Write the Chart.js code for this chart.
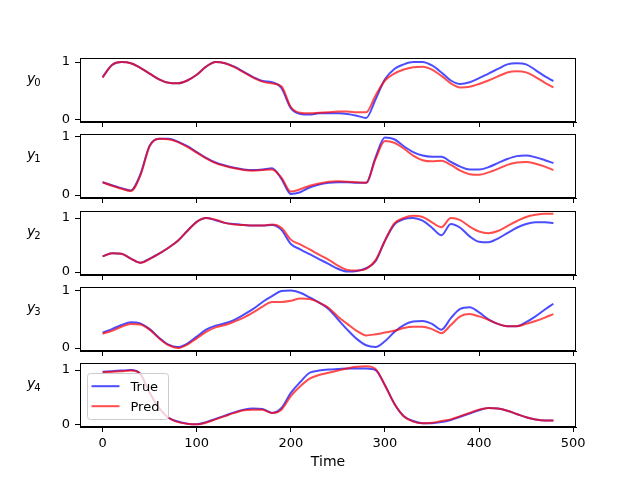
<!DOCTYPE html>
<html>
<head>
<meta charset="utf-8">
<script src="https://cdn.jsdelivr.net/npm/chart.js@4.4.1/dist/chart.umd.min.js"></script>
<style>
  body { margin: 0; background: #fff; }
  #fig { position: relative; width: 640px; height: 480px; overflow: hidden; }
  #fig canvas { position: absolute; left: 0; }
</style>
</head>
<body>
<div id="fig"></div>
<script>
// sample times (x axis)
const time = [0,10,20,30,40,50,60,70,80,90,100,110,120,130,140,150,160,170,180,190,
  200,210,220,230,240,250,260,270,280,290,300,310,320,330,340,350,360,370,380,390,
  400,410,420,430,440,450,460,470,479];

const y0True = [0.74,0.95,1.00,0.98,0.90,0.80,0.70,0.64,0.63,0.68,0.78,0.92,1.00,0.98,0.92,0.83,0.74,0.67,0.65,0.55,
  0.20,0.10,0.09,0.11,0.11,0.11,0.10,0.07,0.03,0.35,0.70,0.88,0.96,1.00,1.00,0.94,0.82,0.68,0.62,0.65,
  0.72,0.80,0.88,0.96,0.98,0.96,0.86,0.75,0.67];
const y0Pred = [0.73,0.95,1.00,0.98,0.90,0.80,0.70,0.64,0.63,0.68,0.78,0.92,1.00,0.98,0.91,0.82,0.73,0.66,0.63,0.58,
  0.22,0.12,0.11,0.12,0.13,0.14,0.14,0.13,0.13,0.42,0.68,0.80,0.87,0.91,0.92,0.87,0.76,0.63,0.56,0.57,
  0.62,0.68,0.75,0.82,0.84,0.82,0.74,0.64,0.56];

const y1True = [0.22,0.17,0.12,0.08,0.35,0.85,0.97,0.97,0.92,0.84,0.74,0.64,0.56,0.51,0.47,0.44,0.43,0.44,0.46,0.28,
  0.02,0.05,0.13,0.18,0.21,0.22,0.22,0.21,0.21,0.65,0.99,0.96,0.84,0.74,0.68,0.66,0.66,0.57,0.49,0.44,
  0.44,0.48,0.55,0.62,0.67,0.68,0.65,0.60,0.55];
const y1Pred = [0.22,0.16,0.11,0.07,0.33,0.84,0.97,0.96,0.91,0.83,0.73,0.63,0.55,0.50,0.46,0.43,0.42,0.43,0.44,0.30,
  0.06,0.10,0.16,0.20,0.23,0.24,0.23,0.22,0.21,0.62,0.93,0.90,0.80,0.68,0.60,0.58,0.59,0.52,0.42,0.36,
  0.35,0.39,0.45,0.52,0.56,0.57,0.54,0.49,0.43];

const y2True = [0.29,0.35,0.34,0.25,0.17,0.25,0.34,0.45,0.58,0.76,0.93,1.00,0.96,0.91,0.89,0.87,0.86,0.86,0.87,0.78,
  0.52,0.42,0.33,0.24,0.15,0.06,0.01,0.02,0.07,0.20,0.58,0.88,0.98,1.00,0.95,0.82,0.68,0.89,0.82,0.66,
  0.56,0.55,0.62,0.72,0.82,0.89,0.92,0.92,0.91];
const y2Pred = [0.29,0.35,0.34,0.25,0.17,0.24,0.34,0.45,0.58,0.76,0.93,1.00,0.97,0.91,0.88,0.87,0.86,0.86,0.88,0.82,
  0.60,0.51,0.42,0.32,0.23,0.12,0.04,0.03,0.06,0.22,0.58,0.90,1.00,1.04,1.02,0.92,0.83,1.00,0.96,0.84,
  0.75,0.72,0.76,0.85,0.94,1.02,1.06,1.08,1.08];

const y3True = [0.27,0.33,0.40,0.45,0.43,0.33,0.18,0.06,0.02,0.08,0.20,0.32,0.39,0.43,0.49,0.58,0.68,0.80,0.90,0.99,
  1.00,0.96,0.88,0.79,0.68,0.50,0.32,0.16,0.05,0.02,0.12,0.28,0.40,0.46,0.47,0.42,0.32,0.52,0.68,0.71,
  0.62,0.50,0.42,0.38,0.38,0.45,0.55,0.67,0.77];
const y3Pred = [0.25,0.30,0.37,0.42,0.41,0.32,0.17,0.05,0.00,0.06,0.17,0.28,0.36,0.40,0.46,0.53,0.62,0.72,0.80,0.80,
  0.82,0.86,0.85,0.79,0.70,0.55,0.42,0.30,0.22,0.24,0.27,0.30,0.35,0.37,0.37,0.33,0.26,0.40,0.55,0.59,
  0.55,0.49,0.42,0.38,0.38,0.42,0.47,0.53,0.59];

const y4True = [0.97,0.98,0.99,1.00,0.93,0.58,0.30,0.12,0.05,0.01,0.00,0.04,0.10,0.16,0.22,0.27,0.29,0.28,0.21,0.30,
  0.58,0.78,0.95,0.99,1.01,1.02,1.03,1.03,1.03,1.00,0.72,0.38,0.15,0.06,0.02,0.02,0.04,0.08,0.14,0.20,
  0.26,0.30,0.29,0.25,0.19,0.13,0.09,0.07,0.07];
const y4Pred = [0.96,0.97,0.98,0.99,0.93,0.58,0.30,0.12,0.04,0.01,0.00,0.03,0.09,0.15,0.21,0.26,0.27,0.27,0.21,0.27,
  0.52,0.70,0.84,0.91,0.95,0.99,1.03,1.06,1.07,1.02,0.72,0.38,0.15,0.05,0.02,0.03,0.06,0.09,0.15,0.21,
  0.27,0.30,0.29,0.25,0.19,0.13,0.09,0.07,0.07];

const trueSeries = [y0True, y1True, y2True, y3True, y4True];
const predSeries = [y0Pred, y1Pred, y2Pred, y3Pred, y4Pred];
const seriesNames = ['True', 'Pred'];
const xTicks = [0, 100, 200, 300, 400, 500];
const yTicks = [0, 1];
const xLabel = 'Time';

// layout (matplotlib-ish subplot boxes)
const BLUE = 'rgba(0,0,255,0.7)';
const RED = 'rgba(255,0,0,0.7)';
const axTops = [58, 134, 211, 287, 363];
const AX_H = 64;
const PAD = 16; // room above/below each axes box, more than the y tick label overflow
const yLimits = [[-0.04, 1.07], [-0.05, 1.05], [-0.055, 1.13], [-0.05, 1.06], [-0.05, 1.13]];
const X_MIN = -24, X_MAX = 503;
const FONT = '"DejaVu Sans", sans-serif';

function toXY(values) {
    return values.map((v, i) => ({ x: time[i], y: v }));
}

// full box around the axes
const framePlugin = {
    id: 'frame',
    afterDraw(chart) {
        const { ctx, chartArea: a } = chart;
        ctx.save();
        ctx.strokeStyle = '#000';
        ctx.lineWidth = 1;
        ctx.strokeRect(Math.round(a.left) + 0.5, Math.round(a.top) + 0.5,
            Math.round(a.right - a.left) - 1, Math.round(a.bottom - a.top) - 1);
        ctx.restore();
    }
};

// horizontal "y_i" label
const yLabelPlugin = {
    id: 'ylab',
    afterDraw(chart, args, opts) {
        const { ctx, chartArea: a } = chart;
        const mid = (a.top + a.bottom) / 2;
        ctx.save();
        ctx.fillStyle = '#000';
        ctx.textBaseline = 'alphabetic';
        ctx.textAlign = 'left';
        ctx.font = 'italic 14px ' + FONT;
        ctx.fillText('y', 27, mid - 7);
        const w = ctx.measureText('y').width;
        ctx.font = '10px ' + FONT;
        ctx.fillText(String(opts.sub), 27 + w - 1, mid - 4.5);
        ctx.restore();
    }
};

// legend drawn inside the lower-left corner of the axes
const innerLegendPlugin = {
    id: 'innerLegend',
    afterDatasetsDraw(chart, args, opts) {
        if (!opts.show) return;
        const { ctx, chartArea: a } = chart;
        const w = 81, h = 46;
        const left = a.left + 7.5, top = a.bottom - 7.5 - h;
        ctx.save();
        ctx.beginPath();
        ctx.roundRect(left, top, w, h, 3);
        ctx.fillStyle = 'rgba(255,255,255,0.8)';
        ctx.fill();
        ctx.strokeStyle = '#cccccc';
        ctx.lineWidth = 1;
        ctx.stroke();
        const colors = [BLUE, RED];
        seriesNames.forEach((name, i) => {
            const y = top + 12.7 + i * 20;
            ctx.beginPath();
            ctx.moveTo(left + 4, y);
            ctx.lineTo(left + 32, y);
            ctx.strokeStyle = colors[i];
            ctx.lineWidth = 2;
            ctx.stroke();
            ctx.fillStyle = '#000';
            ctx.font = '13px ' + FONT;
            ctx.textBaseline = 'middle';
            ctx.fillText(name, left + 43, y + 1);
        });
        ctx.restore();
    }
};

function makeSubplot(idx) {
    const isLast = idx === trueSeries.length - 1;
    const bottomSpace = isLast ? 480 - (axTops[idx] + AX_H) : PAD;
    const canvas = document.createElement('canvas');
    const height = PAD + AX_H + bottomSpace;
    canvas.width = 640;
    canvas.height = height;
    canvas.style.top = (axTops[idx] - PAD) + 'px';
    canvas.style.width = '640px';
    canvas.style.height = height + 'px';
    document.getElementById('fig').appendChild(canvas);

    new Chart(canvas.getContext('2d'), {
        type: 'line',
        data: {
            datasets: [
                { label: seriesNames[0], data: toXY(trueSeries[idx]), borderColor: BLUE, order: 1 },
                { label: seriesNames[1], data: toXY(predSeries[idx]), borderColor: RED, order: 0 }
            ]
        },
        options: {
            responsive: false,
            animation: false,
            devicePixelRatio: 1,
            layout: { autoPadding: false, padding: { top: PAD, right: 64, left: 0, bottom: 0 } },
            elements: {
                line: { borderWidth: 2, cubicInterpolationMode: 'monotone', fill: false },
                point: { radius: 0 }
            },
            plugins: {
                legend: { display: false },
                tooltip: { enabled: false },
                ylab: { sub: idx },
                innerLegend: { show: isLast }
            },
            scales: {
                x: {
                    type: 'linear',
                    min: X_MIN,
                    max: X_MAX,
                    afterBuildTicks: s => { s.ticks = xTicks.map(v => ({ value: v })); },
                    afterFit: s => { s.height = bottomSpace; },
                    grid: { drawOnChartArea: false, tickLength: 5, color: '#000', tickWidth: 1 },
                    border: { color: '#000', width: 1 },
                    ticks: { display: isLast, color: '#000', padding: 4, maxRotation: 0, font: { family: FONT, size: 13 } },
                    title: { display: isLast, text: xLabel, color: '#000', font: { family: FONT, size: 14 }, padding: { top: 0, bottom: 9 } }
                },
                y: {
                    min: yLimits[idx][0],
                    max: yLimits[idx][1],
                    afterBuildTicks: s => { s.ticks = yTicks.map(v => ({ value: v })); },
                    afterFit: s => { s.width = 80; },
                    grid: { drawOnChartArea: false, tickLength: 5, color: '#000', tickWidth: 1 },
                    border: { color: '#000', width: 1 },
                    ticks: { color: '#000', padding: 5, font: { family: FONT, size: 13 } }
                }
            }
        },
        plugins: [framePlugin, yLabelPlugin, innerLegendPlugin]
    });
}

for (let i = 0; i < trueSeries.length; i++) makeSubplot(i);
</script>
</body>
</html>
